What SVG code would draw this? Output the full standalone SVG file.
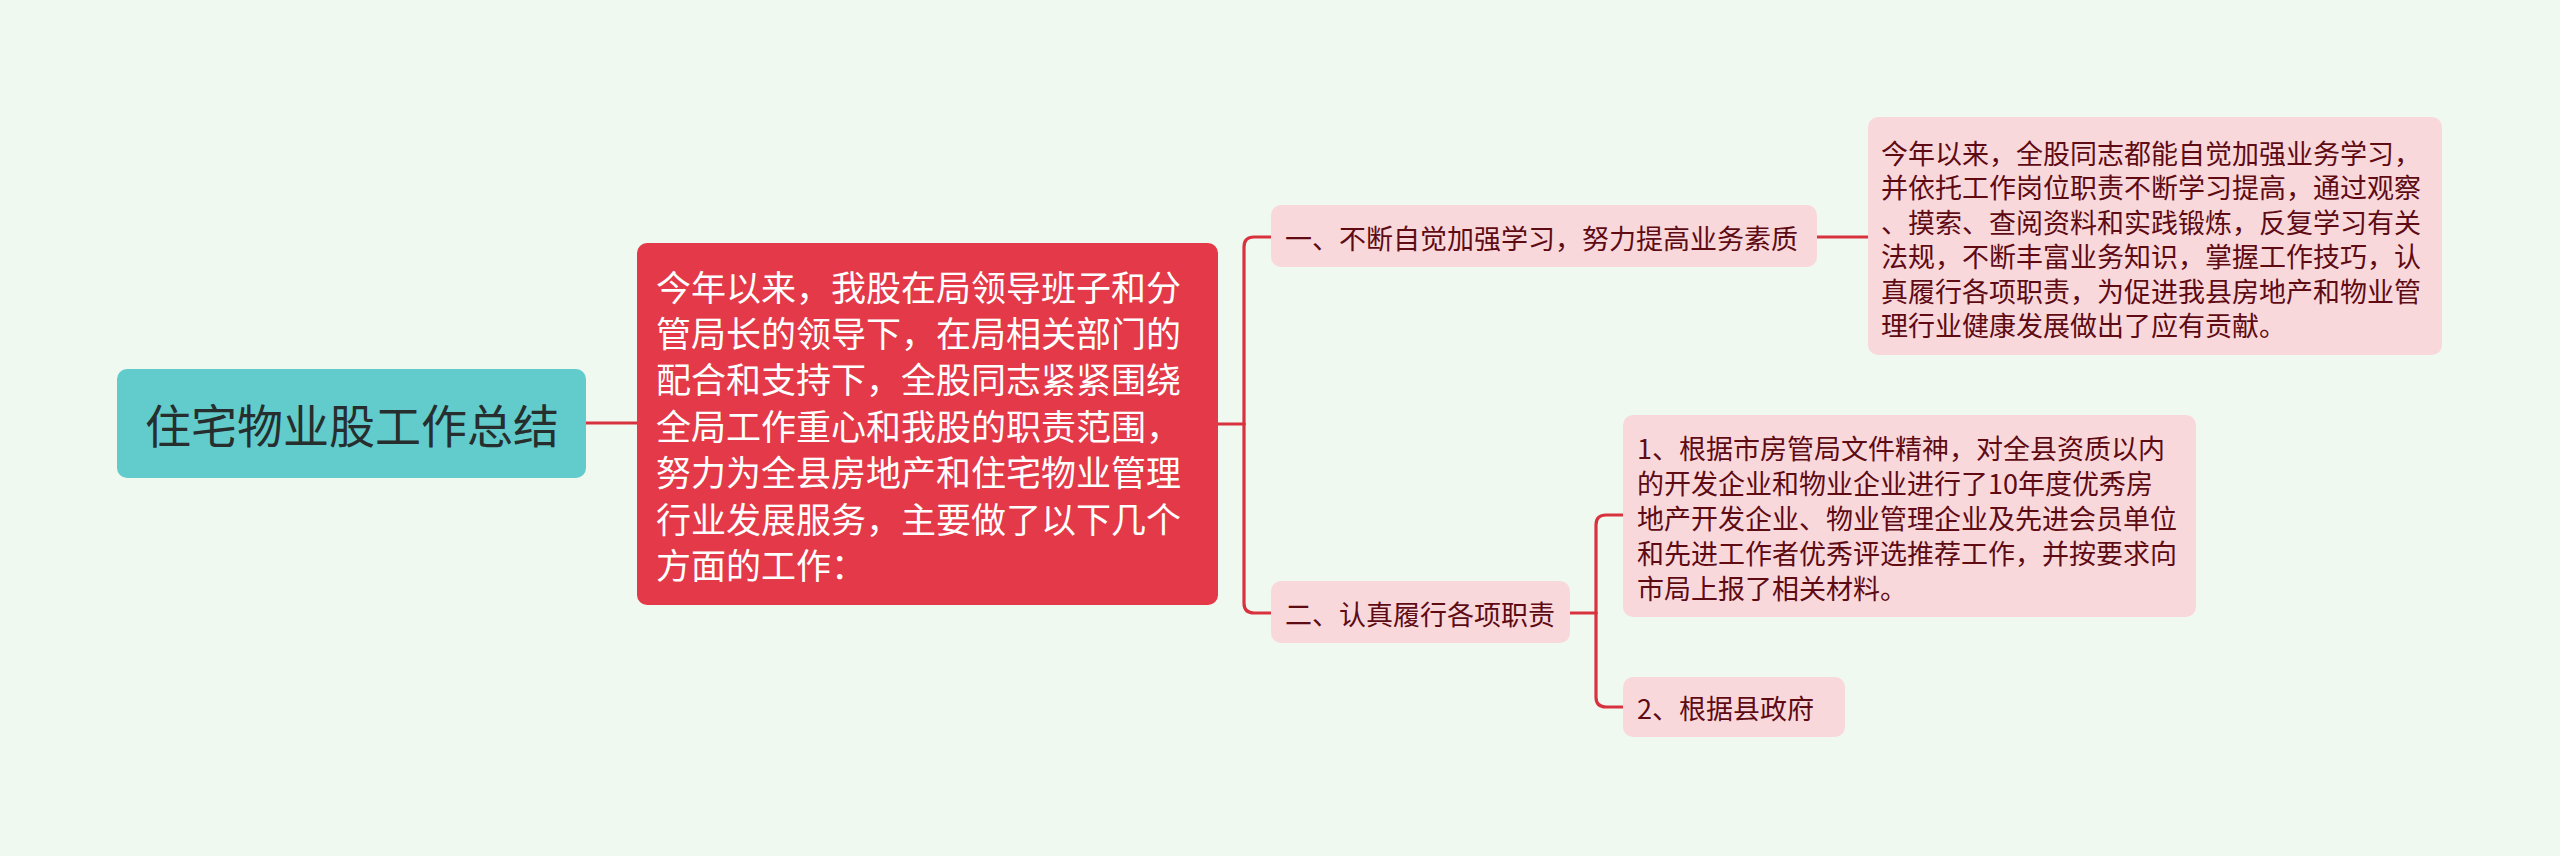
<svg xmlns="http://www.w3.org/2000/svg" width="2560" height="856" viewBox="0 0 2560 856">
<style>
.bg{fill:#EFF9EF}
.conn{fill:none;stroke:#D9323F;stroke-width:3.2;stroke-linecap:round}
.root{fill:#62CBCB}
.main{fill:#E43948}
.pink{fill:#F9D8DC}
text{font-family:"Noto Sans CJK SC","Noto Sans",sans-serif;dominant-baseline:central}
.t-root{font-size:46px;fill:#262E2E}
.t-main{font-size:35px;fill:#FFFFFF}
.t-pink{font-size:27px;fill:#5E0B14}
</style>
<rect class="bg" x="0" y="0" width="2560" height="856"/>
<g id="connectors">
<path class="conn" d="M586,423 H637"/>
<path class="conn" d="M1218,424 H1244"/>
<path class="conn" d="M1244,424 V247 Q1244,237 1254,237 H1271"/>
<path class="conn" d="M1244,424 V603 Q1244,613 1254,613 H1271"/>
<path class="conn" d="M1817,237 H1868"/>
<path class="conn" d="M1570,613 H1596"/>
<path class="conn" d="M1596,613 V525 Q1596,515 1606,515 H1623"/>
<path class="conn" d="M1596,613 V697 Q1596,707 1606,707 H1623"/>
</g>
<g id="root">
<rect class="root" x="117" y="369" width="469" height="109" rx="10"/>
<text class="t-root" x="352" y="423" text-anchor="middle">住宅物业股工作总结</text>
</g>
<g id="main">
<rect class="main" x="637" y="243" width="581" height="362" rx="10"/>
<text class="t-main" x="656" y="285">今年以来，我股在局领导班子和分</text>
<text class="t-main" x="656" y="331">管局长的领导下，在局相关部门的</text>
<text class="t-main" x="656" y="377">配合和支持下，全股同志紧紧围绕</text>
<text class="t-main" x="656" y="424">全局工作重心和我股的职责范围，</text>
<text class="t-main" x="656" y="470">努力为全县房地产和住宅物业管理</text>
<text class="t-main" x="656" y="517">行业发展服务，主要做了以下几个</text>
<text class="t-main" x="656" y="563">方面的工作：</text>
</g>
<g id="branch1">
<rect class="pink" x="1271" y="205" width="546" height="62" rx="10"/>
<text class="t-pink" x="1285" y="237">一、不断自觉加强学习，努力提高业务素质</text>
</g>
<g id="leaf1">
<rect class="pink" x="1868" y="117" width="574" height="238" rx="10"/>
<text class="t-pink" x="1881" y="152">今年以来，全股同志都能自觉加强业务学习，</text>
<text class="t-pink" x="1881" y="186.5">并依托工作岗位职责不断学习提高，通过观察</text>
<text class="t-pink" x="1881" y="221">、摸索、查阅资料和实践锻炼，反复学习有关</text>
<text class="t-pink" x="1881" y="255.5">法规，不断丰富业务知识，掌握工作技巧，认</text>
<text class="t-pink" x="1881" y="290">真履行各项职责，为促进我县房地产和物业管</text>
<text class="t-pink" x="1881" y="324.5">理行业健康发展做出了应有贡献。</text>
</g>
<g id="branch2">
<rect class="pink" x="1271" y="581" width="299" height="62" rx="10"/>
<text class="t-pink" x="1285" y="613">二、认真履行各项职责</text>
</g>
<g id="leaf2">
<rect class="pink" x="1623" y="415" width="573" height="202" rx="10"/>
<text class="t-pink" x="1637" y="447">1、根据市房管局文件精神，对全县资质以内</text>
<text class="t-pink" x="1637" y="482">的开发企业和物业企业进行了10年度优秀房</text>
<text class="t-pink" x="1637" y="517">地产开发企业、物业管理企业及先进会员单位</text>
<text class="t-pink" x="1637" y="552">和先进工作者优秀评选推荐工作，并按要求向</text>
<text class="t-pink" x="1637" y="587">市局上报了相关材料。</text>
</g>
<g id="leaf3">
<rect class="pink" x="1623" y="677" width="222" height="60" rx="10"/>
<text class="t-pink" x="1637" y="707">2、根据县政府</text>
</g>
</svg>
